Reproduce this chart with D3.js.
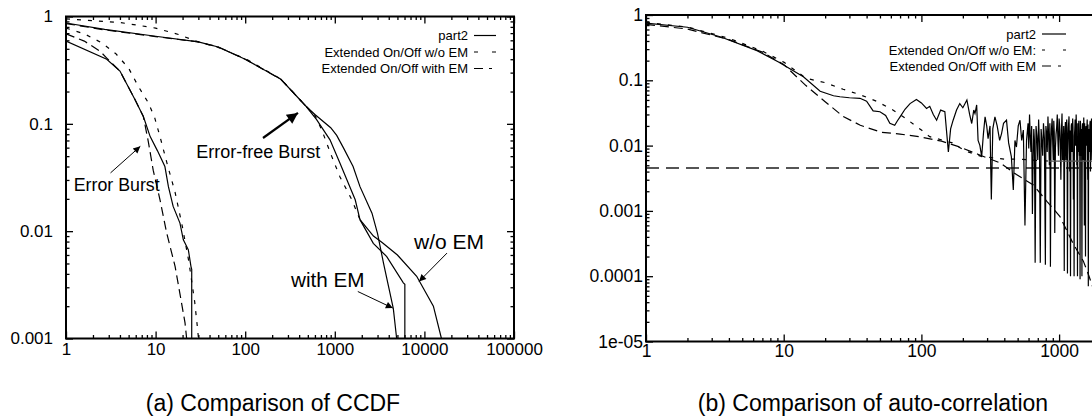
<!DOCTYPE html>
<meta charset="utf-8">
<script src="https://d3js.org/d3.v7.min.js"></script>
<style>
  body { margin: 0; background: #fff; }
  svg { font-family: "Liberation Sans", Arial, Helvetica, sans-serif; }
</style>
<body>
<div id="chart"></div>
<script>

// ---------- (a) CCDF : error bursts ----------
var ebPart2X = [1, 2.85, 4.0, 5.9, 7.3, 8.7, 10.5, 12.7, 13.9, 15.7, 18.7, 20.4, 23.2, 24.8, 25.3, 25.3];
var ebPart2Y = [0.59, 0.40, 0.31, 0.168, 0.117, 0.076, 0.056, 0.040, 0.026, 0.017, 0.0119, 0.0083, 0.0067, 0.0047, 0.0044, 0.0009];

var ebWoX = [1, 1.6, 2.5, 3.6, 5.0, 6.4, 8.3, 9.8, 11.2, 13.5, 16.5, 19.9, 23.5, 27.3, 29.2, 30.5];
var ebWoY = [0.78, 0.69, 0.57, 0.45, 0.33, 0.224, 0.157, 0.113, 0.076, 0.042, 0.023, 0.011, 0.0052, 0.0022, 0.0013, 0.0009];

var ebWithX = [1, 1.6, 2.4, 2.85, 4.0, 5.9, 7.3, 8.3, 9.4, 11.2, 13.3, 16.5, 18.7, 21.3, 22.5];
var ebWithY = [0.69, 0.59, 0.475, 0.41, 0.31, 0.168, 0.117, 0.068, 0.037, 0.0196, 0.0096, 0.0047, 0.0026, 0.0014, 0.0009];

// ---------- (a) CCDF : error-free bursts ----------
var efPart2X = [1, 2.7, 10, 30, 50, 100, 250, 480, 624, 884, 1143, 1416, 1690, 1910, 2690, 3800, 5820, 6050, 6050];
var efPart2Y = [0.87, 0.76, 0.655, 0.58, 0.52, 0.40, 0.26, 0.145, 0.11, 0.071, 0.043, 0.028, 0.0196, 0.0128, 0.0077, 0.0058, 0.0033, 0.0032, 0.0009];

var efWoX = [1, 4, 10, 18, 30, 50, 100, 250, 480, 600, 714, 922, 1143, 1550, 1910, 2700, 3400, 5000, 8200, 12600, 15500, 16500];
var efWoY = [0.95, 0.88, 0.78, 0.68, 0.58, 0.515, 0.405, 0.262, 0.145, 0.12, 0.088, 0.05, 0.032, 0.0196, 0.0128, 0.0090, 0.0078, 0.0060, 0.0038, 0.0020, 0.0010, 0.0008];

var efWithX = [1, 2.7, 10, 30, 50, 100, 250, 480, 600, 900, 1050, 1245, 1600, 1910, 2600, 3000, 3500, 4000, 4500, 4900, 5100];
var efWithY = [0.86, 0.75, 0.65, 0.58, 0.52, 0.40, 0.26, 0.145, 0.122, 0.092, 0.078, 0.060, 0.040, 0.026, 0.0147, 0.0095, 0.0050, 0.0030, 0.0019, 0.0010, 0.0008];

// ---------- (b) auto-correlation of part2, lags 1..580 ----------
var acfLag = [1, 2, 3.5, 6.4, 9.1, 13.9, 18.4, 23, 25.6, 30, 35.8, 40, 44.6, 50, 55, 59, 64, 67, 70, 76,
  82.7, 92, 100, 109, 115, 122, 129, 138, 148, 157, 163, 170, 180, 190, 200, 214, 224, 232, 240, 245,
  252, 258, 266, 274, 282, 290, 298, 305, 315, 322, 330, 342, 355, 370, 382, 395, 415, 430, 450, 465,
  478, 490, 505, 520, 535, 550, 565, 580];
var acfPart2 = [0.75, 0.65, 0.46, 0.285, 0.192, 0.113, 0.068, 0.058, 0.056, 0.054, 0.053, 0.048, 0.034, 0.033, 0.029, 0.022, 0.0205, 0.024, 0.0276, 0.036,
  0.044, 0.051, 0.045, 0.037, 0.040, 0.030, 0.0245, 0.035, 0.033, 0.008, 0.018, 0.0245, 0.035, 0.044, 0.038, 0.050, 0.030, 0.0218, 0.035, 0.031,
  0.042, 0.012, 0.010, 0.0068, 0.015, 0.0276, 0.020, 0.0128, 0.020, 0.0015, 0.018, 0.0276, 0.020, 0.012, 0.0153, 0.022, 0.0245, 0.011, 0.0068, 0.0021,
  0.012, 0.0095, 0.020, 0.0245, 0.012, 0.0173, 0.0006, 0.012];

// ---------- (b) auto-correlation of part2, dense lags 595..1810 ----------
var acfLagDense = [595, 602, 610, 617, 625, 632, 640, 647, 655, 662, 670, 680, 690, 700, 710, 720, 730, 740, 750, 760,
  770, 782, 795, 802, 810, 820, 830, 840, 850, 857, 865, 872, 880, 890, 900, 907, 915, 922, 930, 940,
  950, 960, 970, 980, 990, 1000, 1010, 1020, 1030, 1040, 1050, 1060, 1070, 1080, 1090, 1097, 1105, 1112, 1120, 1127,
  1135, 1142, 1150, 1157, 1165, 1172, 1180, 1187, 1195, 1202, 1210, 1217, 1225, 1232, 1240, 1247, 1255, 1262, 1270, 1277,
  1285, 1292, 1300, 1307, 1315, 1322, 1330, 1337, 1345, 1352, 1360, 1367, 1375, 1382, 1390, 1397, 1405, 1412, 1420, 1427,
  1435, 1442, 1450, 1457, 1465, 1472, 1480, 1487, 1495, 1502, 1510, 1517, 1525, 1532, 1540, 1547, 1555, 1562, 1570, 1577,
  1585, 1592, 1600, 1607, 1615, 1622, 1630, 1637, 1645, 1652, 1660, 1667, 1675, 1682, 1690, 1697, 1705, 1712, 1720, 1727,
  1735, 1742, 1750, 1757, 1765, 1772, 1780, 1787, 1795, 1802, 1810];
var acfPart2Dense = [0.022, 0.009, 0.030, 0.014, 0.008, 0.020, 0.0009, 0.006, 0.018, 0.012, 0.00016, 0.020, 0.014, 0.006, 0.025, 0.011, 0.00016, 0.018, 0.012, 0.007,
  0.022, 0.013, 0.00015, 0.020, 0.016, 0.008, 0.028, 0.013, 0.005, 0.022, 0.00014, 0.009, 0.018, 0.026, 0.010, 0.006, 0.024, 0.016, 0.00046, 0.009,
  0.015, 0.019, 0.030, 0.012, 0.007, 0.026, 0.020, 0.011, 0.003, 0.017, 0.031, 0.006, 0.009, 0.020, 0.00012, 0.011, 0.018, 0.023, 0.006, 0.012,
  0.025, 0.019, 0.00011, 0.007, 0.015, 0.021, 0.028, 0.013, 0.004, 0.017, 0.0001, 0.009, 0.020, 0.022, 0.008, 0.013, 0.026, 0.019, 0.0015, 0.008,
  0.0001, 0.014, 0.018, 0.025, 0.010, 0.011, 0.030, 0.019, 0.005, 0.012, 0.0001, 0.022, 0.016, 0.008, 0.024, 0.017, 0.007, 0.012, 0.00009, 0.024,
  0.020, 0.007, 0.012, 0.018, 0.0001, 0.013, 0.022, 0.021, 0.009, 0.006, 0.027, 0.016, 0.0006, 0.022, 0.015, 0.009, 0.0002, 0.017, 0.020, 0.012,
  0.010, 0.019, 0.025, 0.010, 0.003, 0.021, 0.00007, 0.007, 0.018, 0.016, 0.008, 0.013, 0.022, 0.024, 0.004, 0.009, 0.015, 0.018, 0.026, 0.011,
  0.006, 0.021, 0.018, 0.008, 0.0002, 0.016, 0.020, 0.012, 0.009, 0.019, 0.024];

var acfWoX = [1, 2, 4, 7, 10, 14.6, 20, 27, 36, 47, 61, 77, 100, 115, 168, 207, 275, 400, 520, 700, 850, 1000, 2500];
var acfWoY = [0.77, 0.655, 0.44, 0.28, 0.19, 0.107, 0.092, 0.073, 0.060, 0.048, 0.036, 0.026, 0.0173, 0.0137, 0.011, 0.0083, 0.0068, 0.0062, 0.0062, 0.0059, 0.0058, 0.0058, 0.0058];

var acfWithX = [1, 2, 4, 7, 10, 14.5, 20, 27, 36, 51, 70, 100, 140, 190, 260, 375, 490, 650, 815, 1015, 1260, 1500, 1650, 2000];
var acfWithY = [0.72, 0.61, 0.42, 0.27, 0.175, 0.083, 0.047, 0.028, 0.0205, 0.016, 0.015, 0.0135, 0.0117, 0.0095, 0.0073, 0.0054, 0.0036, 0.0025, 0.0014, 0.00082, 0.00032, 0.00017, 0.0001, 0.00003];

var acfBound = 0.00455;

// tick labels
var ccdfXTicks = [1, 10, 100, 1000, 10000, 100000];
var ccdfXLabels = ["1", "10", "100", "1000", "10000", "100000"];
var ccdfYTicks = [1, 0.1, 0.01, 0.001];
var ccdfYLabels = ["1", "0.1", "0.01", "0.001"];
var acfXTicks = [1, 10, 100, 1000];
var acfXLabels = ["1", "10", "100", "1000"];
var acfYTicks = [1, 0.1, 0.01, 0.001, 0.0001, 0.00001];
var acfYLabels = ["1", "0.1", "0.01", "0.001", "0.0001", "1e-05"];

var legendNames = ["part2", "Extended On/Off w/o EM", "Extended On/Off with EM"];
var legendNamesB = ["part2", "Extended On/Off w/o EM:", "Extended On/Off with EM"];

// annotations of (a), in data coordinates
var notes = [
  {text: "Error Burst", at: [1.22, 0.0238], size: 17.8, from: [3.14, 0.0349], to: [6.75, 0.0617], w: 1, head: "s"},
  {text: "Error-free Burst", at: [28.5, 0.0484], size: 18, from: [158, 0.0738], to: [388, 0.1264], w: 2.2, head: "b"},
  {text: "w/o EM", at: [7650, 0.00685], size: 21, from: [17880, 0.00625], to: [8710, 0.0034], w: 1, head: "s"},
  {text: "with EM", at: [324, 0.0030], size: 20.7, from: [1806, 0.00274], to: [4440, 0.00192], w: 1, head: "s"}
];

var SHORT = "4,7", LONG = "9,5";

var svg = d3.select("#chart").append("svg")
    .attr("width", 1092)
    .attr("height", 417);

svg.append("rect").attr("width", 1092).attr("height", 417).attr("fill", "#fff");

var defs = svg.append("defs");
[["s", 9, 7], ["b", 14, 11]].forEach(function(m) {
  defs.append("marker")
      .attr("id", "arrow-" + m[0])
      .attr("viewBox", "0 0 10 10")
      .attr("refX", 10).attr("refY", 5)
      .attr("markerUnits", "userSpaceOnUse")
      .attr("markerWidth", m[1]).attr("markerHeight", m[2])
      .attr("orient", "auto")
    .append("path")
      .attr("d", "M0,0L10,5L0,10z")
      .attr("fill", "#000");
});

function zip(xs, ys) {
  return xs.map(function(v, i) { return [v, ys[i]]; });
}

function minorTicks(domain) {
  var out = [];
  var lo = Math.round(Math.log10(domain[0])), hi = Math.round(Math.log10(domain[1]));
  for (var e = lo; e < hi; e++) {
    for (var k = 2; k <= 9; k++) out.push(k * Math.pow(10, e));
  }
  return out;
}

function drawPanel(o) {
  var x = o.x, y = o.y;
  var x0 = x.range()[0], x1 = x.range()[1];
  var y0 = y.range()[0], y1 = y.range()[1];
  var g = svg.append("g");

  defs.append("clipPath").attr("id", o.id)
    .append("rect")
      .attr("x", x0).attr("y", y1)
      .attr("width", x1 - x0).attr("height", y0 - y1);

  // ticks, gnuplot style: inside, mirrored on all four sides
  function axis(gen, tr, ticks, size, labels, pad) {
    var a = g.append("g")
        .attr("transform", tr)
        .call(gen.tickValues(ticks)
          .tickSize(-size)
          .tickPadding(pad || 3)
          .tickFormat(function(d, i) { return labels ? labels[i] : ""; }));
    a.select(".domain").remove();
    a.selectAll("line").attr("stroke", "#000").attr("stroke-width", 1.3);
    a.attr("font-size", o.tickFont).attr("font-family", null);
    a.selectAll("text").attr("fill", "#000");
    return a;
  }
  var xMin = minorTicks(x.domain()), yMin = minorTicks([y.domain()[0], y.domain()[1]]);

  axis(d3.axisBottom(x), "translate(0," + y0 + ")", o.xTicks, 7, o.xLabels, o.xPad);
  axis(d3.axisBottom(x), "translate(0," + y0 + ")", xMin, 3.5);
  axis(d3.axisTop(x), "translate(0," + y1 + ")", o.xTicks, 7);
  axis(d3.axisTop(x), "translate(0," + y1 + ")", xMin, 3.5);
  axis(d3.axisLeft(y), "translate(" + x0 + ",0)", o.yTicks, 7, o.yLabels, o.yPad);
  axis(d3.axisLeft(y), "translate(" + x0 + ",0)", yMin, 3.5);
  axis(d3.axisRight(y), "translate(" + x1 + ",0)", o.yTicks, 7);
  axis(d3.axisRight(y), "translate(" + x1 + ",0)", yMin, 3.5);

  var line = d3.line()
      .x(function(d) { return x(d[0]); })
      .y(function(d) { return y(d[1]); });

  var plot = g.append("g").attr("clip-path", "url(#" + o.id + ")");

  o.series.forEach(function(s) {
    var pts = zip(s.x, s.y);
    var dashed = pts, solid = [];
    if (s.solidFrom) {
      var k = pts.findIndex(function(p) { return p[0] >= s.solidFrom; });
      dashed = pts.slice(0, k + 1);
      solid = pts.slice(k);
    }
    plot.append("path")
        .attr("d", line(dashed))
        .attr("fill", "none")
        .attr("stroke", s.color || "#000")
        .attr("stroke-width", s.w || 1.2)
        .attr("stroke-dasharray", s.dash);
    if (solid.length > 1) {
      plot.append("path")
          .attr("d", line(solid))
          .attr("fill", "none")
          .attr("stroke", s.tailColor || "#000")
          .attr("stroke-width", 1.2);
    }
  });

  // frame
  g.append("rect")
      .attr("x", x0).attr("y", y1)
      .attr("width", x1 - x0).attr("height", y0 - y1)
      .attr("fill", "none")
      .attr("stroke", "#000")
      .attr("stroke-width", 2);

  // key
  var key = g.append("g").attr("font-size", o.key.font);
  o.keyNames.forEach(function(name, i) {
    var by = o.key.y + i * o.key.dy;
    key.append("text")
        .attr("x", o.key.x).attr("y", by)
        .attr("text-anchor", "end")
        .text(name);
    key.append("line")
        .attr("x1", o.key.x + 6).attr("x2", o.key.x + 6 + o.key.len)
        .attr("y1", by - 4.5).attr("y2", by - 4.5)
        .attr("stroke", "#000")
        .attr("stroke-width", 1.2)
        .attr("stroke-dasharray", o.keyDash[i]);
  });

  g.append("text")
      .attr("x", o.caption.x).attr("y", o.caption.y)
      .attr("text-anchor", "middle")
      .attr("font-size", o.caption.size)
      .text(o.caption.text);

  return {g: g, x: x, y: y};
}

var a = drawPanel({
  id: "clipA",
  x: d3.scaleLog().domain([1, 1e5]).range([66, 514]),
  y: d3.scaleLog().domain([0.001, 1]).range([338.5, 16.5]),
  tickFont: 17,
  xTicks: ccdfXTicks, xLabels: ccdfXLabels, xPad: 4,
  yTicks: ccdfYTicks, yLabels: ccdfYLabels, yPad: 13,
  series: [
    {x: ebPart2X, y: ebPart2Y},
    {x: ebWoX, y: ebWoY, dash: SHORT},
    {x: ebWithX, y: ebWithY, dash: LONG},
    {x: efPart2X, y: efPart2Y},
    {x: efWoX, y: efWoY, dash: SHORT, solidFrom: 1910},
    {x: efWithX, y: efWithY, dash: LONG, solidFrom: 480}
  ],
  keyNames: legendNames,
  keyDash: [null, "4,14", "9,6,3,30"],
  key: {x: 468, y: 40, dy: 16.5, len: 22, font: 13},
  caption: {x: 273, y: 411, size: 23, text: "(a) Comparison of CCDF"}
});

notes.forEach(function(n) {
  a.g.append("line")
      .attr("x1", a.x(n.from[0])).attr("y1", a.y(n.from[1]))
      .attr("x2", a.x(n.to[0])).attr("y2", a.y(n.to[1]))
      .attr("stroke", "#000")
      .attr("stroke-width", n.w)
      .attr("marker-end", "url(#arrow-" + n.head + ")");
  a.g.append("text")
      .attr("x", a.x(n.at[0])).attr("y", a.y(n.at[1]))
      .attr("font-size", n.size)
      .text(n.text);
});

var b = drawPanel({
  id: "clipB",
  x: d3.scaleLog().domain([1, 1e4]).range([646, 646 + 4 * 137.7]),
  y: d3.scaleLog().domain([1e-5, 1]).range([341.5, 15]),
  tickFont: 17.5,
  xTicks: acfXTicks, xLabels: acfXLabels, xPad: 3,
  yTicks: acfYTicks, yLabels: acfYLabels, yPad: 3,
  series: [
    {x: [1, 1e4], y: [acfBound, acfBound], dash: "13,7", color: "#555", w: 2},
    {x: acfLag.concat(acfLagDense), y: acfPart2.concat(acfPart2Dense)},
    {x: acfWoX, y: acfWoY, dash: SHORT, solidFrom: 850, tailColor: "#555"},
    {x: acfWithX, y: acfWithY, dash: LONG}
  ],
  keyNames: legendNamesB,
  keyDash: [null, "3,18", "9,7,3,30"],
  key: {x: 1036, y: 38.5, dy: 16, len: 24, font: 13},
  caption: {x: 873, y: 411, size: 23, text: "(b) Comparison of auto-correlation"}
});

</script>
</body>
